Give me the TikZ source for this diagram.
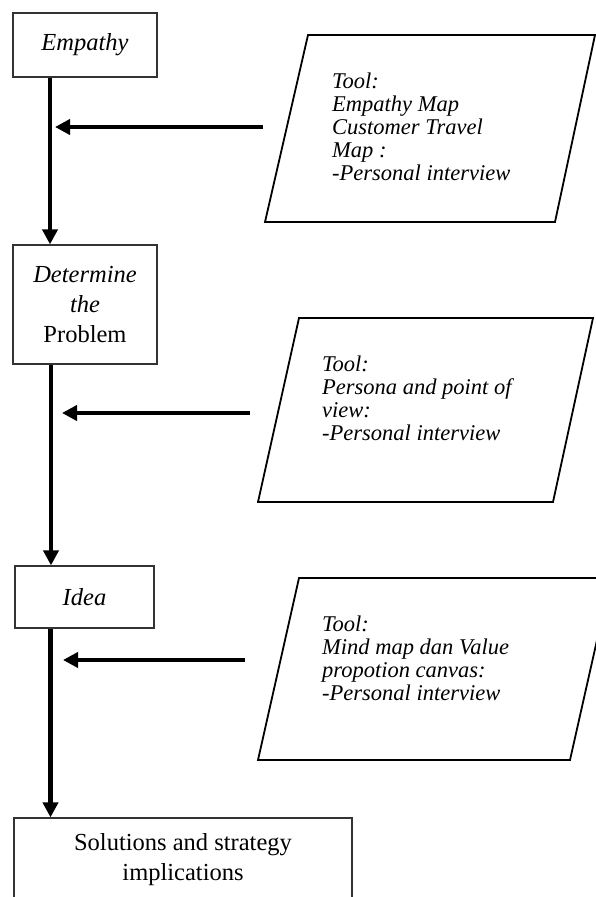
\documentclass[tikz,border=0pt]{standalone}
\usepackage{fontspec}
\setmainfont{Liberation Serif}
\usetikzlibrary{arrows.meta}

\begin{document}
\begin{tikzpicture}[
  x=1pt, y=-1pt,
  box/.style={draw=black!80, line width=1.2pt, align=center, inner sep=0pt, font=\fontsize{24.5}{30}\selectfont},
  tooltext/.style={anchor=north west, align=left, inner sep=0pt, font=\fontsize{22.5}{23}\selectfont\itshape},
  para/.style={draw, line width=1.8pt, line join=miter},
  arr/.style={-{Triangle[length=15pt,width=15pt]}, line width=4.5pt},
]
\useasboundingbox (0,0) rectangle (596,897);
% stages
\node[box, minimum width=144pt, minimum height=64pt] (emp) at (85,45) {\itshape Empathy};
\node[box, minimum width=144pt, minimum height=119pt] (det) at (85,304.5) {\itshape Determine\\ \itshape the\\ Problem};
\node[box, minimum width=139pt, minimum height=62pt] (idea) at (84.5,597) {\itshape Idea};
\node[box, minimum width=338pt, minimum height=84pt] (sol) at (183,860) {Solutions and strategy\\ implications};
\draw[arr] ([xshift=-35pt]emp.south) -- ([xshift=-35pt]det.north);
\draw[arr] ([xshift=-34pt]det.south) -- ([xshift=-34pt]det.south |- idea.north);
\draw[arr] ([xshift=-34pt]idea.south) -- ([xshift=-34pt]idea.south |- sol.north);
% tools
\draw[para] (308,35) -- (595,35) -- (555,222) -- (265,222) -- cycle;
\node[tooltext] (tool1) at (332,73) {Tool:\\Empathy Map\\Customer Travel\\Map :\\-Personal interview};
\draw[para] (299,318) -- (593,318) -- (553,502) -- (258,502) -- cycle;
\node[tooltext] (tool2) at (322,356) {Tool:\\Persona and point of\\view:\\-Personal interview};
\draw[para] (299,578) -- (611,578) -- (570,760) -- (258,760) -- cycle;
\node[tooltext] (tool3) at (322,616) {Tool:\\Mind map dan Value\\propotion canvas:\\-Personal interview};
\coordinate (from1) at (263,127);
\coordinate (to1) at (55,127);
\coordinate (from2) at (250,413);
\coordinate (to2) at (62,413);
\coordinate (from3) at (245,660);
\coordinate (to3) at (63,660);
\draw[arr] (from1) -- (to1);
\draw[arr] (from2) -- (to2);
\draw[arr] (from3) -- (to3);
\end{tikzpicture}
\end{document}
